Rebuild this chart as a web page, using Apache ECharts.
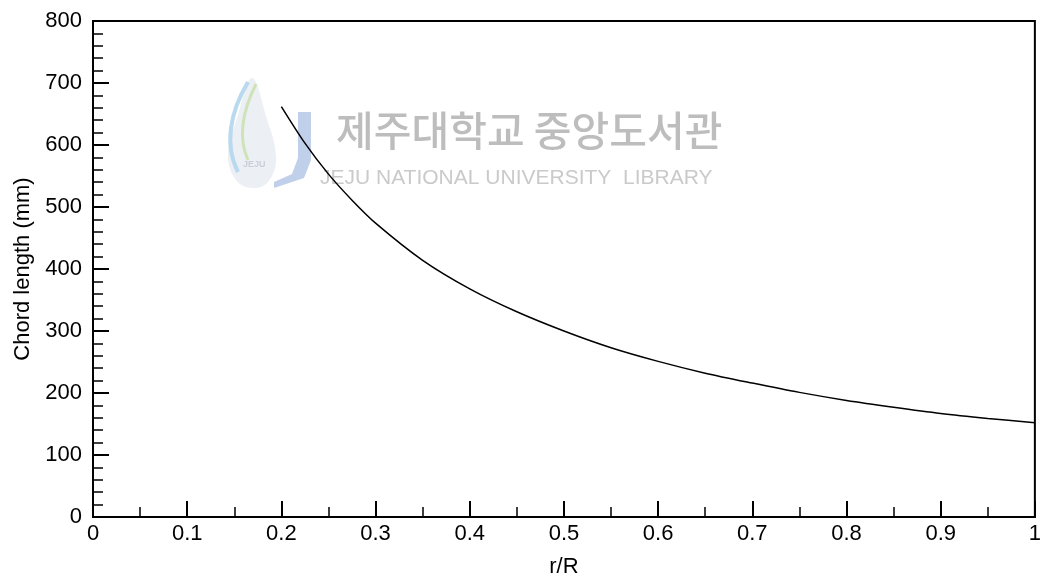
<!DOCTYPE html>
<html>
<head>
<meta charset="utf-8">
<script src="https://cdn.jsdelivr.net/npm/echarts@6/dist/echarts.min.js"></script>
<style>
  html, body { margin: 0; padding: 0; background: #fff; }
  #chart { width: 1044px; height: 583px; }
</style>
</head>
<body>
<div id="chart"></div>
<script>
// r/R 위치별 코드 길이 (mm), 그림에서 읽은 값
const rR = [0.2, 0.225, 0.25, 0.275, 0.3, 0.35, 0.4, 0.45, 0.5, 0.55, 0.6, 0.65, 0.7, 0.75, 0.8, 0.85, 0.9, 0.95, 1.0]
const chord = [662, 603, 553, 511, 474, 414, 368, 331, 300, 273, 251, 232, 216, 201, 188, 177, 167, 159, 152]

const xName = 'r/R'
const yName = 'Chord length (mm)'
const wmTitle = '제주대학교 중앙도서관'
const wmSub = 'JEJU NATIONAL UNIVERSITY  LIBRARY'

const font = '"Liberation Sans", Arial, sans-serif'
const chart = echarts.init(document.getElementById('chart'))

const axisCommon = {
  axisLine: { show: true, lineStyle: { color: '#000', width: 2 } },
  axisTick: { show: true, inside: true, length: 16, lineStyle: { color: '#000', width: 2 } },
  minorTick: { show: true, length: 10, lineStyle: { color: '#000', width: 1.5 } },
  splitLine: { show: false },
  axisLabel: { color: '#000', fontSize: 22, fontFamily: font },
  nameTextStyle: { color: '#000', fontSize: 22, fontFamily: font },
  nameLocation: 'middle'
}

const option = {
  backgroundColor: '#fff',
  animation: false,
  grid: {
    left: 93, right: 9, top: 21, bottom: 64,
    show: true, borderColor: '#000', borderWidth: 2
  },
  xAxis: {
    ...axisCommon,
    type: 'value', min: 0, max: 1, interval: 0.1,
    minorTick: { ...axisCommon.minorTick, splitNumber: 2 },
    axisLabel: { ...axisCommon.axisLabel, margin: 6 },
    name: xName, nameGap: 39
  },
  yAxis: {
    ...axisCommon,
    type: 'value', min: 0, max: 800, interval: 100,
    minorTick: { ...axisCommon.minorTick, splitNumber: 5 },
    axisLabel: { ...axisCommon.axisLabel, margin: 11 },
    name: yName, nameGap: 58
  },
  // 워터마크 (도서관 로고 + 글자)
  graphic: [
    { type: 'polygon', silent: true, z: 0,
      shape: { points: [[252, 78], [238, 115], [228, 155], [236, 180], [252, 188], [268, 182], [276, 158], [266, 116]], smooth: 0.4 },
      style: { fill: '#eceff3' } },
    { type: 'bezierCurve', silent: true, z: 0,
      shape: { x1: 248, y1: 82, cpx1: 230, cpy1: 112, cpx2: 224, cpy2: 145, x2: 238, y2: 172 },
      style: { fill: null, stroke: '#b9d9ef', lineWidth: 4 } },
    { type: 'bezierCurve', silent: true, z: 0,
      shape: { x1: 256, y1: 84, cpx1: 242, cpy1: 112, cpx2: 238, cpy2: 138, x2: 248, y2: 160 },
      style: { fill: null, stroke: '#cfe3b8', lineWidth: 3 } },
    { type: 'text', silent: true, left: 243, top: 160, z: 0,
      style: { text: 'JEJU', fill: '#c9cfd8', font: 'bold 9px ' + font } },
    { type: 'polygon', silent: true, z: 0,
      shape: { points: [[298, 112], [311, 112], [311, 160], [304, 178], [274, 188], [274, 182], [292, 174], [298, 158]] },
      style: { fill: '#c0cfea' } },
    { type: 'text', silent: true, left: 336, top: 110, z: 0,
      style: { text: wmTitle, fill: '#bdbdbd', font: '500 41px "Noto Sans CJK KR", sans-serif' } },
    { type: 'text', silent: true, left: 320, top: 168, z: 0,
      style: { text: wmSub, fill: '#cacaca', font: '21px ' + font } }
  ],
  series: [{
    type: 'line',
    data: rR.map((r, i) => [r, chord[i]]),
    showSymbol: false,
    smooth: 0.3,
    lineStyle: { color: '#000', width: 1.5 },
    z: 5
  }]
}

chart.setOption(option)
</script>
</body>
</html>
